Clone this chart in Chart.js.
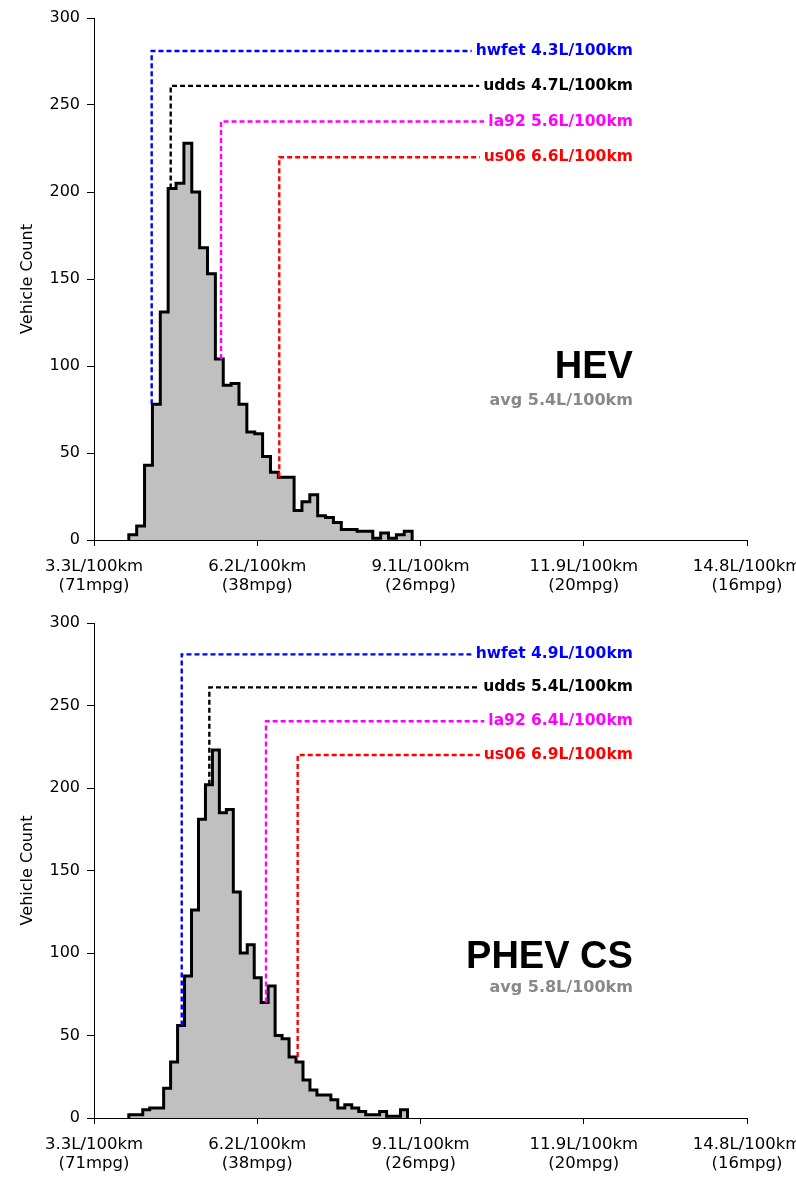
<!DOCTYPE html>
<html>
<head>
<meta charset="utf-8">
<script src="https://cdn.jsdelivr.net/npm/chart.js@4.4.1/dist/chart.umd.min.js"></script>
<style>
html,body{margin:0;padding:0;background:#fff;}
#wrap{position:relative;width:796px;height:1177px;overflow:hidden;}
canvas{position:absolute;left:0;}
</style>
</head>
<body>
<div id="wrap">
<canvas id="c1" width="796" height="600" style="top:0px"></canvas>
<canvas id="c2" width="796" height="577" style="top:600px"></canvas>
</div>
<script>
// ---- x axis (L/100km) ----
const X_MIN = 3.3;
const X_MAX = 14.8;
const X_TICK_VALUES = [3.3, 6.175, 9.05, 11.925, 14.8];
const X_TICK_LABELS = [
  ['3.3L/100km', '(71mpg)'],
  ['6.2L/100km', '(38mpg)'],
  ['9.1L/100km', '(26mpg)'],
  ['11.9L/100km', '(20mpg)'],
  ['14.8L/100km', '(16mpg)']
];
const Y_MAX = 300;
const Y_STEP = 50;
const Y_TITLE = 'Vehicle Count';

// ---- HEV histogram ----
const HEV_BIN_START = 3.913;
const HEV_BIN_WIDTH = 0.1386;
const HEV_COUNTS = [3, 8, 43, 78, 131, 202, 205, 228, 200, 168, 153, 104, 89, 90, 78, 62, 61, 48, 39, 36,
                    36, 17, 22, 26, 14, 13, 10, 6, 6, 5, 5, 1, 4, 1, 3, 5];
const HEV_CYCLE_X = [4.316, 4.651, 5.537, 6.563];
const HEV_CYCLE_TEXT = ['hwfet 4.3L/100km', 'udds 4.7L/100km', 'la92 5.6L/100km', 'us06 6.6L/100km'];
const HEV_CYCLE_LEVEL = [281, 261, 240.5, 220];
const HEV_CYCLE_BOTTOM = [78, 202, 104, 36];
const HEV_NAME = 'HEV';
const HEV_AVG = 'avg 5.4L/100km';

// ---- PHEV CS histogram ----
const PHEV_BIN_START = 3.913;
const PHEV_BIN_WIDTH = 0.1227;
const PHEV_COUNTS = [2, 2, 5, 6, 6, 18, 34, 56, 86, 126, 181, 202, 223, 185, 187, 137, 100, 105, 85, 70,
                     80, 50, 48, 37, 34, 23, 17, 14, 14, 11, 6, 8, 6, 4, 2, 2, 4, 1, 1, 5];
const PHEV_CYCLE_X = [4.845, 5.331, 6.329, 6.887];
const PHEV_CYCLE_TEXT = ['hwfet 4.9L/100km', 'udds 5.4L/100km', 'la92 6.4L/100km', 'us06 6.9L/100km'];
const PHEV_CYCLE_LEVEL = [281, 261, 240.5, 220];
const PHEV_CYCLE_BOTTOM = [56, 202, 70, 37];
const PHEV_NAME = 'PHEV CS';
const PHEV_AVG = 'avg 5.8L/100km';

const CYCLE_COLORS = ['#0000ff', '#000000', '#ff00ff', '#ff0000'];
const LINE_END_X = 10.27;     // where the dashed leaders run to (under label)
const LABEL_RIGHT_X = 12.79;  // right edge of the annotation text

function histPoints(start, width, counts) {
  const pts = [{x: start, y: 0}];
  counts.forEach((c, i) => {
    pts.push({x: start + i * width, y: c});
    pts.push({x: start + (i + 1) * width, y: c});
  });
  pts.push({x: start + counts.length * width, y: 0});
  return pts;
}

const annotate = {
  id: 'annotate',
  afterDraw(chart, args, opts) {
    const ctx = chart.ctx;
    const xs = chart.scales.x, ys = chart.scales.y;
    const xr = xs.getPixelForValue(LABEL_RIGHT_X);
    ctx.save();
    ctx.textAlign = 'right';
    ctx.textBaseline = 'middle';
    ctx.font = 'bold 15.5px "DejaVu Sans"';
    opts.texts.forEach((t, i) => {
      const y = ys.getPixelForValue(opts.levels[i]);
      const w = ctx.measureText(t).width;
      ctx.fillStyle = '#ffffff';
      ctx.fillRect(xr - w - 4, y - 9, w + 6, 18);
      ctx.fillStyle = CYCLE_COLORS[i];
      ctx.fillText(t, xr, y);
    });
    ctx.textBaseline = 'alphabetic';
    ctx.fillStyle = '#000000';
    ctx.font = 'bold 38px "Liberation Sans"';
    ctx.fillText(opts.name, xr, ys.getPixelForValue(opts.nameY));
    ctx.fillStyle = '#888888';
    ctx.font = 'bold 16px "DejaVu Sans"';
    ctx.fillText(opts.avg, xr, ys.getPixelForValue(opts.avgY));
    ctx.restore();
  }
};

function makeChart(canvasId, padTop, xAxisH, start, width, counts, cx, texts, levels, bottoms, name, avg, nameY, avgY) {
  const datasets = [];
  cx.forEach((x, i) => {
    datasets.push({
      data: [{x: x, y: bottoms[i]}, {x: x, y: levels[i]}, {x: LINE_END_X, y: levels[i]}],
      borderColor: CYCLE_COLORS[i],
      borderWidth: 2.4,
      borderDash: [5, 3],
      borderJoinStyle: 'miter',
      pointRadius: 0,
      fill: false,
      order: 0
    });
  });
  datasets.push({
    data: histPoints(start, width, counts),
    borderColor: '#000000',
    backgroundColor: '#c0c0c0',
    borderWidth: 3,
    borderJoinStyle: 'miter',
    pointRadius: 0,
    fill: 'origin',
    tension: 0,
    order: 1
  });
  return new Chart(document.getElementById(canvasId), {
    type: 'line',
    data: {datasets},
    options: {
      responsive: false,
      animation: false,
      devicePixelRatio: 1,
      layout: {padding: {top: padTop, right: 49, left: 0, bottom: 0}},
      plugins: {
        legend: {display: false},
        tooltip: {enabled: false},
        annotate: {texts, levels, name, avg, nameY, avgY}
      },
      scales: {
        x: {
          type: 'linear',
          min: X_MIN,
          max: X_MAX,
          afterBuildTicks: s => { s.ticks = X_TICK_VALUES.map(v => ({value: v})); },
          afterFit: s => { s.height = xAxisH; s.paddingLeft = 0; s.paddingRight = 0; },
          grid: {display: true, drawOnChartArea: false, drawTicks: true, tickLength: 6, color: '#000000', lineWidth: 1},
          border: {display: true, color: '#000000', width: 1},
          ticks: {
            autoSkip: false, maxRotation: 0, minRotation: 0, padding: 12, color: '#000000',
            font: {family: 'DejaVu Sans', size: 16.5, lineHeight: 1.1},
            callback: (v, i) => X_TICK_LABELS[i]
          }
        },
        y: {
          type: 'linear',
          min: 0,
          max: Y_MAX,
          afterFit: s => { s.width = 94; s.paddingTop = 0; s.paddingBottom = 0; },
          grid: {display: true, drawOnChartArea: false, drawTicks: true, tickLength: 7, color: '#000000', lineWidth: 1},
          border: {display: true, color: '#000000', width: 1},
          ticks: {stepSize: Y_STEP, padding: 7, color: '#000000', font: {family: 'DejaVu Sans', size: 16}},
          title: {display: true, text: Y_TITLE, color: '#000000', font: {family: 'DejaVu Sans', size: 16, lineHeight: 1.2}, padding: {top: 18, bottom: 0}}
        }
      }
    },
    plugins: [annotate]
  });
}

makeChart('c1', 18, 60, HEV_BIN_START, HEV_BIN_WIDTH, HEV_COUNTS, HEV_CYCLE_X, HEV_CYCLE_TEXT,
          HEV_CYCLE_LEVEL, HEV_CYCLE_BOTTOM, HEV_NAME, HEV_AVG, 93, 77.5);
makeChart('c2', 23, 59, PHEV_BIN_START, PHEV_BIN_WIDTH, PHEV_COUNTS, PHEV_CYCLE_X, PHEV_CYCLE_TEXT,
          PHEV_CYCLE_LEVEL, PHEV_CYCLE_BOTTOM, PHEV_NAME, PHEV_AVG, 91, 76.5);
</script>
</body>
</html>
